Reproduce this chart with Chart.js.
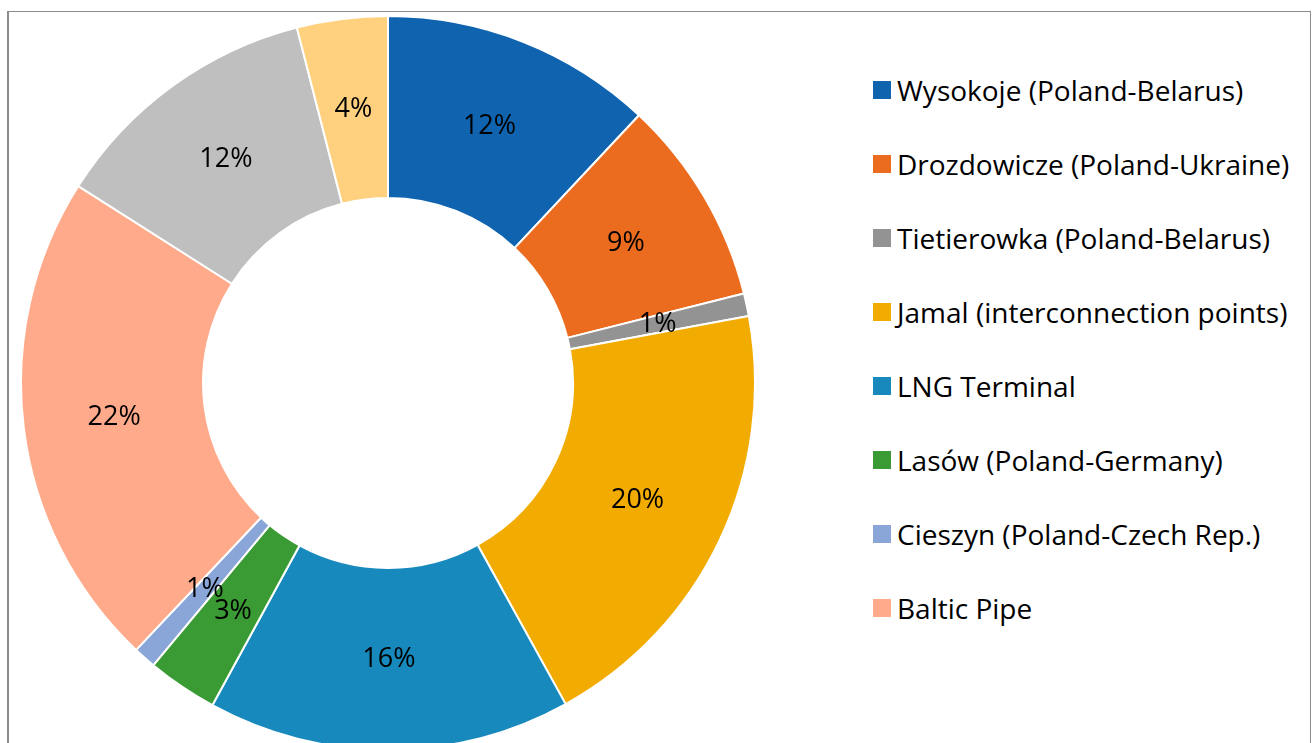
<!DOCTYPE html>
<html>
<head>
<meta charset="utf-8">
<script src="https://cdn.jsdelivr.net/npm/chart.js@4/dist/chart.umd.min.js"></script>
<style>
  html, body { margin: 0; padding: 0; background: #fff; overflow: hidden; width: 1314px; height: 743px; }
  .frame { position: absolute; left: 7px; top: 11px; width: 1304px; height: 800px; border: 1px solid #8c8c8c; border-left-width: 2px; box-sizing: border-box; }
  #wrap { position: absolute; left: 18px; top: 13px; width: 740px; height: 740px; }
  #legend { position: absolute; left: 873px; top: 53px; font-family: "Open Sans", sans-serif; font-size: 28px; color: #000; font-variant-ligatures: none; }
  #legend .row { height: 74px; display: flex; align-items: center; white-space: nowrap; }
  #legend .box { width: 18px; height: 18px; margin-right: 6px; flex: none; }
</style>
</head>
<body>
<div class="frame"></div>
<div id="wrap"><canvas id="pie" width="740" height="740"></canvas></div>
<div id="legend"></div>
<script>
// Udział punktów wejścia gazu – kolejność zgodnie z ruchem wskazówek zegara od góry
const LABELS = [
  "Wysokoje (Poland-Belarus)",
  "Drozdowicze (Poland-Ukraine)",
  "Tietierowka (Poland-Belarus)",
  "Jamal (interconnection points)",
  "LNG Terminal",
  "Lasów (Poland-Germany)",
  "Cieszyn (Poland-Czech Rep.)",
  "Baltic Pipe",
  "Other",
  "Other (2)",
];
const SHARES = [12.0, 9.1, 1.0, 19.9, 16.0, 3.1, 1.0, 22.0, 12.0, 4.0];
const COLORS = ["#0F63AF", "#EC6C1F", "#939393", "#F2AB00", "#1789BD", "#3A9A33", "#8AA6D8", "#FFAA8A", "#BFBFBF", "#FFD17E"];
const LEGEND_COUNT = 8; // tylko pierwsze 8 pozycji widać w legendzie

const FONT = "'Open Sans', sans-serif";

// etykiety procentowe w środku każdego wycinka
const sliceLabels = {
  id: "sliceLabels",
  afterDatasetsDraw(chart) {
    const ctx = chart.ctx;
    const meta = chart.getDatasetMeta(0);
    const data = chart.data.datasets[0].data;
    const total = data.reduce((a, b) => a + b, 0);
    ctx.save();
    ctx.font = "27px " + FONT;
    ctx.fillStyle = "#000";
    ctx.textAlign = "center";
    ctx.textBaseline = "middle";
    meta.data.forEach((arc, i) => {
      const p = arc.tooltipPosition();
      ctx.fillText(Math.round((data[i] / total) * 100) + "%", p.x, p.y);
    });
    ctx.restore();
  },
};

new Chart(document.getElementById("pie"), {
  type: "doughnut",
  data: {
    labels: LABELS,
    datasets: [{ data: SHARES, backgroundColor: COLORS, borderColor: "#fff", borderWidth: 2 }],
  },
  options: {
    responsive: false,
    animation: false,
    cutout: "50.4%",
    layout: { padding: 2 },
    plugins: { legend: { display: false }, tooltip: { enabled: false } },
  },
  plugins: [sliceLabels],
});

document.getElementById("legend").innerHTML = LABELS.slice(0, LEGEND_COUNT)
  .map((l, i) => `<div class="row"><span class="box" style="background:${COLORS[i]}"></span>${l}</div>`)
  .join("");
</script>
</body>
</html>
